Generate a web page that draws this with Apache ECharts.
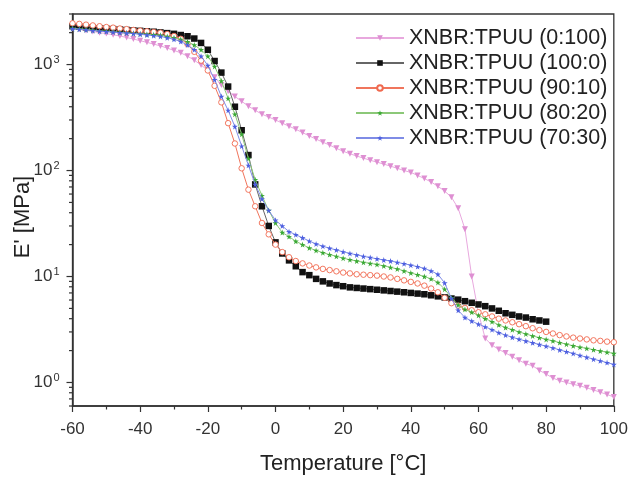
<!DOCTYPE html>
<html>
<head>
<meta charset="utf-8">
<script src="https://cdn.jsdelivr.net/npm/echarts@6/dist/echarts.min.js"></script>
<style>
  html, body { margin: 0; padding: 0; background: #fff; }
  #chart { width: 631px; height: 480px; }
</style>
</head>
<body>
<div id="chart"></div>
<script>
// Storage modulus E' of XNBR:TPUU blends versus temperature (DMA, 2 °C steps)
const temps = [
  -60, -58, -56, -54, -52, -50, -48, -46, -44, -42, -40, -38, -36, -34, -32, -30, -28, -26, -24, -22,
  -20, -18, -16, -14, -12, -10, -8, -6, -4, -2, 0, 2, 4, 6, 8, 10, 12, 14, 16, 18,
  20, 22, 24, 26, 28, 30, 32, 34, 36, 38, 40, 42, 44, 46, 48, 50, 52, 54, 56, 58,
  60, 62, 64, 66, 68, 70, 72, 74, 76, 78, 80, 82, 84, 86, 88, 90, 92, 94, 96, 98, 100
];

const seriesNames = [
  'XNBR:TPUU (0:100)', 'XNBR:TPUU (100:0)', 'XNBR:TPUU (90:10)', 'XNBR:TPUU (80:20)', 'XNBR:TPUU (70:30)'
];

const e0_100 = [
  2200, 2150, 2100, 2050, 2000, 1960, 1910, 1860, 1800, 1740, 1680, 1620, 1560, 1500, 1430, 1360, 1290, 1200, 1100, 990,
  880, 760, 640, 560, 500, 450, 405, 370, 340, 320, 300, 280, 262, 245, 228, 212, 198, 185, 174, 162,
  152, 144, 137, 131, 125, 120, 115, 110, 105, 100, 96, 90, 84, 78, 71, 64, 56, 44, 28, 10,
  4.5, 2.6, 2.25, 2.05, 1.9, 1.75, 1.62, 1.5, 1.44, 1.3, 1.2, 1.1, 1.04, 1.0, 0.96, 0.93, 0.89, 0.85, 0.81, 0.77, 0.73
];

// pure XNBR was measured up to 80 °C only
const e100_0 = [
  2300, 2280, 2250, 2230, 2200, 2180, 2160, 2140, 2120, 2100, 2080, 2060, 2040, 2010, 1980, 1950, 1900, 1850, 1760, 1600,
  1380, 1080, 840, 620, 400, 240, 140, 74, 46, 30, 21, 16.5, 14.2, 12.5, 11, 10.3, 9.5, 9.0, 8.6, 8.3,
  8.1, 7.9, 7.8, 7.7, 7.6, 7.5, 7.4, 7.3, 7.2, 7.1, 7.0, 6.9, 6.8, 6.65, 6.5, 6.35, 6.2, 6.05, 5.85, 5.65,
  5.45, 5.25, 5.0, 4.75, 4.5, 4.35, 4.2, 4.1, 3.95, 3.85, 3.75
];

const e90_10 = [
  2450, 2420, 2380, 2340, 2300, 2260, 2230, 2190, 2160, 2120, 2090, 2060, 2030, 2000, 1940, 1860, 1750, 1560, 1320, 1090,
  880, 630, 440, 280, 180, 105, 66, 46, 32, 25, 20, 17, 15.2, 14, 13.3, 12.7, 12.2, 11.8, 11.5, 11.2,
  10.9, 10.7, 10.5, 10.4, 10.3, 10.2, 10.0, 9.8, 9.5, 9.2, 8.9, 8.6, 8.2, 7.7, 7.1, 6.3, 5.6, 5.3, 5.05, 4.8,
  4.6, 4.4, 4.2, 4.0, 3.85, 3.7, 3.55, 3.4, 3.25, 3.12, 3.0, 2.9, 2.8, 2.72, 2.65, 2.6, 2.55, 2.5, 2.47, 2.43, 2.4
];

const e80_20 = [
  2200, 2170, 2140, 2110, 2080, 2060, 2040, 2010, 1990, 1970, 1950, 1930, 1910, 1890, 1840, 1790, 1730, 1640, 1530, 1380,
  1200, 960, 700, 480, 340, 220, 130, 82, 58, 42, 32, 26, 23.8, 21.5, 20, 18.6, 17.6, 16.8, 16.1, 15.5,
  14.9, 14.4, 14.0, 13.6, 13.3, 13.0, 12.6, 12.2, 11.8, 11.3, 10.8, 10.4, 10.0, 9.5, 8.8, 7.6, 6.3, 5.4, 4.9, 4.6,
  4.3, 4.0, 3.75, 3.5, 3.3, 3.15, 3.0, 2.87, 2.75, 2.65, 2.55, 2.47, 2.38, 2.3, 2.22, 2.15, 2.1, 2.04, 1.98, 1.93, 1.88
];

const e70_30 = [
  2180, 2150, 2120, 2090, 2060, 2040, 2020, 2000, 1980, 1960, 1930, 1900, 1870, 1840, 1790, 1730, 1650, 1530, 1380, 1200,
  980, 720, 500, 370, 260, 170, 112, 74, 54, 42, 34, 30, 26.5, 24.8, 23.2, 21.6, 20.3, 19.3, 18.5, 17.8,
  17.1, 16.5, 16.0, 15.5, 15.1, 14.7, 14.3, 14.0, 13.6, 13.2, 12.8, 12.4, 11.9, 11.3, 10.5, 8.7, 6.2, 4.8, 4.1, 3.8,
  3.55, 3.35, 3.15, 2.95, 2.8, 2.67, 2.56, 2.46, 2.37, 2.28, 2.2, 2.12, 2.03, 1.95, 1.88, 1.8, 1.73, 1.66, 1.6, 1.54, 1.48
];

// axis ranges and tick values
const xRange = [-60, 100];
const xStep = 20;
const yRange = [0.6, 3000];
const yMajorTicks = [1, 10, 100, 1000];
const yMinorTicks = [
  0.6, 0.7, 0.8, 0.9,
  2, 3, 4, 5, 6, 7, 8, 9,
  20, 30, 40, 50, 60, 70, 80, 90,
  200, 300, 400, 500, 600, 700, 800, 900,
  2000, 3000
];

const FONT = "'Liberation Sans', Arial, Helvetica, sans-serif";
const AXIS = '#333';

const starPath = 'path://M50,0 L61,35 L98,35 L68,57 L79,91 L50,70 L21,91 L32,57 L2,35 L39,35 Z';
const downTriangle = 'path://M0,0 L10,0 L5,9 Z';

function pairs(values) {
  return values.map((v, i) => [temps[i], v]);
}

const styles = [
  { symbol: downTriangle, size: 6, color: '#de8fd2', line: '#e8a8de', fill: null },
  { symbol: 'rect', size: 6.5, color: '#111111', line: '#666666', fill: null },
  { symbol: 'circle', size: 5.5, color: '#f0694f', line: '#f0755c', fill: '#ffffff' },
  { symbol: starPath, size: 6, color: '#3aa935', line: '#8cc878', fill: null },
  { symbol: starPath, size: 6, color: '#4d5fe0', line: '#7f8ce6', fill: null }
];
const valueSets = [e0_100, e100_0, e90_10, e80_20, e70_30];

const lineSeries = valueSets.map((vals, k) => {
  const st = styles[k];
  const itemStyle = st.fill
    ? { color: st.fill, borderColor: st.color, borderWidth: 0.9 }
    : { color: st.color, borderWidth: 0 };
  return {
    name: seriesNames[k],
    type: 'line',
    data: pairs(vals),
    symbol: st.symbol,
    symbolSize: st.size,
    showAllSymbol: true,
    clip: true,
    lineStyle: { color: st.line, width: 1 },
    itemStyle: itemStyle,
    emphasis: { disabled: true },
    animation: false,
    z: 3 + k
  };
});

// log-axis tick marks: decades long, 2..9 multiples short
const tickData = yMajorTicks.map(v => [xRange[0], v, 1])
  .concat(yMinorTicks.map(v => [xRange[0], v, 0]));

const tickSeries = {
  type: 'custom',
  name: 'yTicks',
  data: tickData,
  encode: { x: 0, y: 1 },
  silent: true,
  animation: false,
  z: 10,
  renderItem(params, api) {
    const p = api.coord([api.value(0), api.value(1)]);
    const len = api.value(2) ? 6 : 3.5;
    return {
      type: 'line',
      shape: { x1: p[0] - len, y1: p[1], x2: p[0], y2: p[1] },
      style: { stroke: AXIS, lineWidth: 1.2 }
    };
  }
};

const chart = echarts.init(document.getElementById('chart'), null, { renderer: 'canvas' });

chart.setOption({
  backgroundColor: '#ffffff',
  animation: false,
  textStyle: { fontFamily: FONT },
  grid: {
    left: 72.5, right: 17, top: 14, bottom: 68,
    show: true, borderColor: AXIS, borderWidth: 1.3, backgroundColor: 'transparent'
  },
  legend: {
    data: seriesNames,
    orient: 'vertical',
    left: 350,
    top: 22,
    itemWidth: 48,
    itemHeight: 7,
    itemGap: 3,
    textStyle: { fontFamily: FONT, fontSize: 21.5, color: '#222', lineHeight: 21.5 },
    selectedMode: false
  },
  xAxis: {
    type: 'value',
    min: xRange[0], max: xRange[1], interval: xStep,
    name: 'Temperature [°C]',
    nameLocation: 'middle',
    nameGap: 47,
    nameMoveOverlap: false,
    nameTextStyle: { fontFamily: FONT, fontSize: 22, color: '#222' },
    axisLine: { show: true, onZero: false, lineStyle: { color: AXIS, width: 1.5 } },
    axisTick: { show: true, inside: false, length: 6, lineStyle: { color: AXIS, width: 1.2 } },
    minorTick: { show: true, splitNumber: 2, length: 3.5, lineStyle: { color: AXIS, width: 1.2 } },
    axisLabel: { fontFamily: FONT, fontSize: 17, color: '#333', margin: 15 },
    splitLine: { show: false }
  },
  yAxis: {
    type: 'log',
    logBase: 10,
    min: yRange[0], max: yRange[1],
    name: "E' [MPa]",
    nameLocation: 'middle',
    nameGap: 39,
    nameMoveOverlap: false,
    nameTextStyle: { fontFamily: FONT, fontSize: 22, color: '#222', padding: [0, 14, 0, 0] },
    axisLine: { show: true, onZero: false, lineStyle: { color: AXIS, width: 1.5 } },
    axisTick: { show: false },
    axisLabel: {
      margin: 13,
      showMinLabel: false,
      showMaxLabel: false,
      formatter(v) {
        const lg = Math.log10(v);
        const e = Math.round(lg);
        if (Math.abs(lg - e) > 1e-6) return '';
        return '{b|10}{s|' + e + '}';
      },
      rich: {
        b: { fontFamily: FONT, fontSize: 17, color: '#333' },
        s: { fontFamily: FONT, fontSize: 11, color: '#333', padding: [0, 0, 9, 1] }
      }
    },
    splitLine: { show: false }
  },
  series: lineSeries.concat([tickSeries])
});
</script>
</body>
</html>
